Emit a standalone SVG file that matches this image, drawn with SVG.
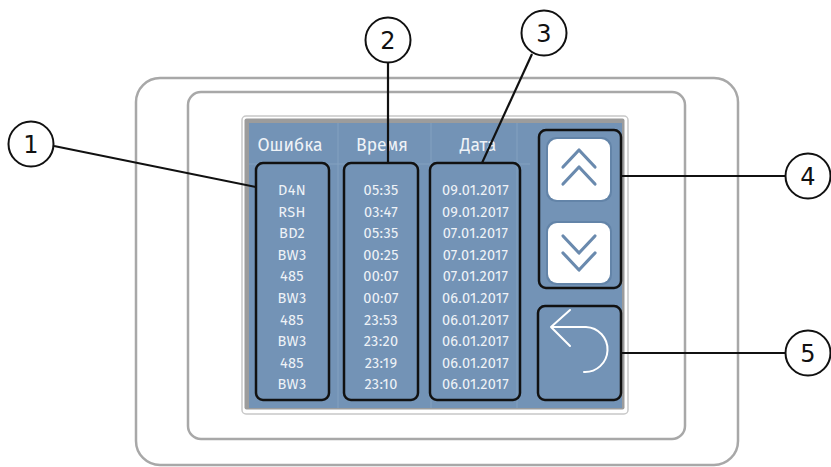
<svg xmlns="http://www.w3.org/2000/svg" width="831" height="467" viewBox="0 0 831 467">
<style>
.frame{fill:none;stroke:#a8a8a8;stroke-width:2.5}
.box{fill:none;stroke:#111;stroke-width:2.5}
.hdr{font-family:"Fira Sans","Noto Sans","Open Sans",sans-serif;font-size:17.5px;fill:#eef2f7;text-anchor:middle}
.cell{font-family:"Fira Sans","Noto Sans","Open Sans",sans-serif;font-size:14.5px;fill:#eef2f7;text-anchor:middle;letter-spacing:0.3px}
.sep{stroke:#84a1c0;stroke-width:1}
.chev{fill:none;stroke:#6a8aae;stroke-width:3.2;stroke-linecap:round;stroke-linejoin:round}
.call{fill:#fff;stroke:#111;stroke-width:2}
.num{font-family:"DejaVu Sans","Liberation Sans",sans-serif;font-size:24px;fill:#111;text-anchor:middle}
.lead{stroke:#111;stroke-width:2.2;fill:none}
</style>
<rect width="831" height="467" fill="#fff"/>
<g id="device">
<rect class="frame" x="136" y="78" width="602" height="387" rx="24"/>
<rect class="frame" x="188" y="92" width="497" height="347" rx="13"/>
<rect x="242" y="116" width="386" height="298" rx="4" fill="#fff" stroke="#c8c8c8" stroke-width="1.5"/>
<rect x="244.5" y="118.5" width="380" height="291" rx="2" fill="#9c9c9c"/>
<rect x="249" y="123" width="373" height="285" fill="#7393b6"/>
<line class="sep" x1="338" y1="123" x2="338" y2="408"/>
<line class="sep" x1="431" y1="123" x2="431" y2="408"/>
<line class="sep" x1="517" y1="123" x2="517" y2="408"/>
<line class="sep" x1="249" y1="164" x2="530" y2="164"/>
</g>
<g id="col1">
<text class="hdr" x="290" y="151">Ошибка</text>
<rect class="box" x="256" y="163" width="73" height="237" rx="7"/>
<text class="cell" x="292" y="195">D4N</text>
<text class="cell" x="292" y="216.6">RSH</text>
<text class="cell" x="292" y="238.2">BD2</text>
<text class="cell" x="292" y="259.8">BW3</text>
<text class="cell" x="292" y="281.4">485</text>
<text class="cell" x="292" y="303">BW3</text>
<text class="cell" x="292" y="324.6">485</text>
<text class="cell" x="292" y="346.2">BW3</text>
<text class="cell" x="292" y="367.8">485</text>
<text class="cell" x="292" y="389.4">BW3</text>
</g>
<g id="col2">
<text class="hdr" x="382" y="151">Время</text>
<rect class="box" x="344" y="163" width="74" height="237" rx="7"/>
<text class="cell" x="381" y="195">05:35</text>
<text class="cell" x="381" y="216.6">03:47</text>
<text class="cell" x="381" y="238.2">05:35</text>
<text class="cell" x="381" y="259.8">00:25</text>
<text class="cell" x="381" y="281.4">00:07</text>
<text class="cell" x="381" y="303">00:07</text>
<text class="cell" x="381" y="324.6">23:53</text>
<text class="cell" x="381" y="346.2">23:20</text>
<text class="cell" x="381" y="367.8">23:19</text>
<text class="cell" x="381" y="389.4">23:10</text>
</g>
<g id="col3">
<text class="hdr" x="478" y="151">Дата</text>
<rect class="box" x="430" y="163" width="90" height="237" rx="7"/>
<text class="cell" x="475.5" y="195">09.01.2017</text>
<text class="cell" x="475.5" y="216.6">09.01.2017</text>
<text class="cell" x="475.5" y="238.2">07.01.2017</text>
<text class="cell" x="475.5" y="259.8">07.01.2017</text>
<text class="cell" x="475.5" y="281.4">07.01.2017</text>
<text class="cell" x="475.5" y="303">06.01.2017</text>
<text class="cell" x="475.5" y="324.6">06.01.2017</text>
<text class="cell" x="475.5" y="346.2">06.01.2017</text>
<text class="cell" x="475.5" y="367.8">06.01.2017</text>
<text class="cell" x="475.5" y="389.4">06.01.2017</text>
</g>
<g id="scroll">
<rect class="box" x="539" y="130" width="82" height="158" rx="7"/>
<rect x="546" y="137" width="66" height="65" rx="10" fill="#6384a8"/>
<rect x="548" y="139" width="62" height="61" rx="9" fill="#fff"/>
<polyline class="chev" points="563,167 579,150 595,167"/>
<polyline class="chev" points="563,184 579,167 595,184"/>
<rect x="546" y="221" width="66" height="64" rx="10" fill="#6384a8"/>
<rect x="548" y="223" width="62" height="60" rx="9" fill="#fff"/>
<polyline class="chev" points="563,236 579,253 595,236"/>
<polyline class="chev" points="563,253 579,270 595,253"/>
</g>
<g id="back">
<rect class="box" x="538" y="306" width="83" height="94" rx="7"/>
<path d="M570,310 L551,327 L570,346 M551,327 L586,327 A22.5,22.5 0 0 1 584,372" fill="none" stroke="#fff" stroke-width="2" stroke-linecap="round" stroke-linejoin="round"/>
</g>
<g id="connectors">
<line class="lead" x1="54" y1="146" x2="256" y2="187"/>
<line class="lead" x1="388" y1="63" x2="388" y2="163"/>
<line class="lead" x1="532" y1="54" x2="482" y2="163"/>
<line class="lead" x1="621" y1="176" x2="786" y2="176"/>
<line class="lead" x1="621" y1="353" x2="786" y2="353"/>
</g>
<g id="c1"><circle class="call" cx="31" cy="144" r="22.5"/><text class="num" x="31" y="153">1</text></g>
<g id="c2"><circle class="call" cx="388" cy="40" r="22.5"/><text class="num" x="388" y="49">2</text></g>
<g id="c3"><circle class="call" cx="544" cy="33" r="22.5"/><text class="num" x="544" y="42">3</text></g>
<g id="c4"><circle class="call" cx="808" cy="176" r="22.5"/><text class="num" x="808" y="185">4</text></g>
<g id="c5"><circle class="call" cx="808" cy="353" r="22.5"/><text class="num" x="808" y="362">5</text></g>
</svg>
